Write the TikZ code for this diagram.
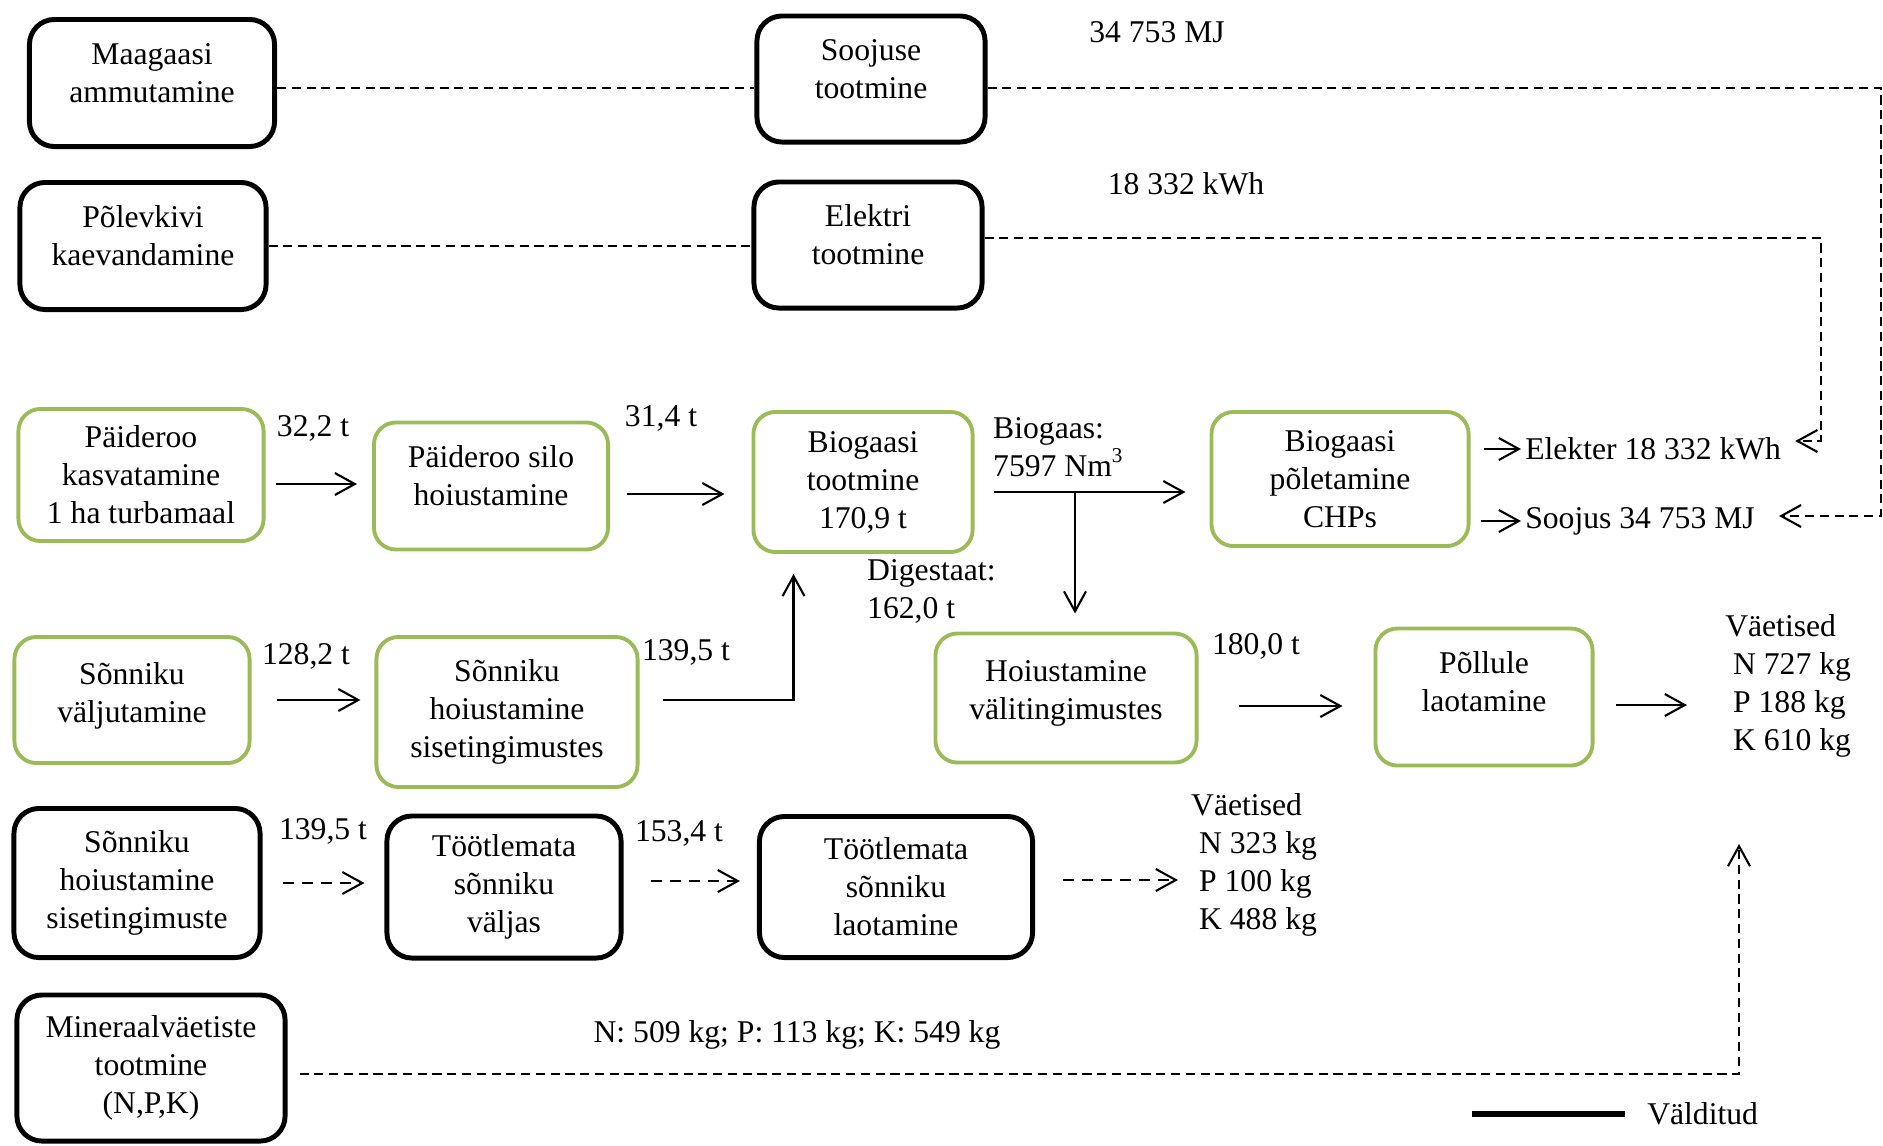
\documentclass[tikz,border=0pt]{standalone}
\usepackage{fontspec}
\setmainfont{Liberation Serif}
\usepackage{xcolor}
\usepackage{tikz}
\usetikzlibrary{arrows.meta, positioning}
\definecolor{leaf}{RGB}{155, 187, 89}
\newcommand{\padlow}[1]{\\[#1]\mbox{}}

\begin{document}
\begin{tikzpicture}[
			x=0.01cm, y=-0.01cm,
			font=\fontsize{9}{10.8}\selectfont,
			oldbox/.style={rectangle, draw=black, rounded corners=0.25cm, align=center, inner sep=2pt, line width=1.4pt},
			newbox/.style={rectangle, draw=leaf, rounded corners=0.22cm, align=center, inner sep=2pt, line width=1.1pt},
			lbl/.style={align=left, inner sep=1pt},
			flow/.style={-{Straight Barb[length=0.2cm, width=0.22cm]}, line width=0.6pt},
			dflow/.style={flow, dash pattern=on 3.2pt off 2.2pt},
			avoid/.style={line width=0.6pt, dash pattern=on 2.6pt off 1.6pt}
			]
			\useasboundingbox (0,0) rectangle (1883,1145);
			
			% Row 1 and 2
			\node[oldbox, minimum width=2.45cm, minimum height=1.27cm] (mg) at (152,83) {Maagaasi\\ammutamine\padlow{-5pt}};
			\node[oldbox, minimum width=2.28cm, minimum height=1.26cm] (sj) at (871,79) {Soojuse\\tootmine\padlow{-5pt}};
			\node[oldbox, minimum width=2.46cm, minimum height=1.27cm] (pv) at (143,246) {Põlevkivi\\kaevandamine\padlow{-5pt}};
			\node[oldbox, minimum width=2.28cm, minimum height=1.26cm] (el) at (868,245) {Elektri\\tootmine\padlow{-5pt}};
			\node[lbl] (sjval) at (1157,32) {34 753 MJ};
			\node[lbl] (elval) at (1186,184) {18 332 kWh};
			
			% Row 3
			\node[newbox, minimum width=2.45cm, minimum height=1.32cm] (pk) at (141,475) {Päideroo\\kasvatamine\\1 ha turbamaal};
			\node[newbox, minimum width=2.34cm, minimum height=1.27cm] (ps) at (491,486) {Päideroo silo\\hoiustamine\padlow{-5pt}};
			\node[newbox, minimum width=2.19cm, minimum height=1.40cm] (bg) at (863,482) {Biogaasi\\tootmine\\170,9 t};
			\node[newbox, minimum width=2.57cm, minimum height=1.34cm] (chp) at (1340,479) {Biogaasi\\põletamine\\CHPs};
			\node[lbl, anchor=west] (elekter) at (1521,449) {Elekter 18 332 kWh};
			\node[lbl, anchor=west] (soojus) at (1521,521) {Soojus 34 753 MJ};
			\node[lbl] (pkval) at (313,428) {32,2 t};
			\node[lbl] (psval) at (661,418) {31,4 t};
			\node[lbl, anchor=west] (bgval) at (989,447) {Biogaas:\\7597 Nm\textsuperscript{3}};
			\node[lbl, anchor=west] (dgval) at (863,591) {Digestaat:\\162,0 t};
			
			% Row 4
			\node[newbox, minimum width=2.35cm, minimum height=1.26cm] (sv) at (132,700) {Sõnniku\\väljutamine\padlow{-6.5pt}};
			\node[newbox, minimum width=2.61cm, minimum height=1.50cm] (sh) at (507,712) {Sõnniku\\hoiustamine\\sisetingimustes};
			\node[newbox, minimum width=2.61cm, minimum height=1.29cm] (hv) at (1066,698) {Hoiustamine\\välitingimustes\padlow{-6.5pt}};
			\node[newbox, minimum width=2.17cm, minimum height=1.37cm] (pl) at (1484,697) {Põllule\\laotamine\padlow{-2pt}};
			\node[lbl, anchor=west] (vt1) at (1721,686) {Väetised\\\ N 727 kg\\\ P 188 kg\\\ K 610 kg};
			\node[lbl] (svval) at (306,656) {128,2 t};
			\node[lbl] (shval) at (686,652) {139,5 t};
			\node[lbl] (hvval) at (1256,646) {180,0 t};
			
			% Row 5 and 6
			\node[oldbox, minimum width=2.46cm, minimum height=1.49cm] (sh2) at (137,883) {Sõnniku\\hoiustamine\\sisetingimuste};
			\node[oldbox, minimum width=2.34cm, minimum height=1.42cm] (tv) at (504,887) {Töötlemata\\sõnniku\\väljas};
			\node[oldbox, minimum width=2.73cm, minimum height=1.41cm] (tl) at (896,887) {Töötlemata\\sõnniku\\laotamine};
			\node[lbl, anchor=west] (vt2) at (1187,865) {Väetised\\\ N 323 kg\\\ P 100 kg\\\ K 488 kg};
			\node[lbl] (sh2val) at (323,831) {139,5 t};
			\node[lbl] (tvval) at (679,833) {153,4 t};
			\node[oldbox, minimum width=2.68cm, minimum height=1.46cm] (mv) at (151,1068) {Mineraalväetiste\\tootmine\\(N,P,K)};
			\node[lbl] (mvval) at (797,1035) {N: 509 kg; P: 113 kg; K: 549 kg};
			\node[lbl, anchor=west] (vld) at (1643,1114) {Välditud};
			
			\coordinate (rc1) at (1881,516);
			\coordinate (rc2) at (1821,441);
			\coordinate (bgsplit) at (1075,492);
			\coordinate (mvend) at (1739,844);
			\coordinate (lgs) at (1472,1114);
			
			% Dashed lines (avoided)
			\draw[avoid] ([yshift=-0.05cm]mg.east) -- ([yshift=-0.05cm]mg.east -| sj.west);
			\draw[avoid] (pv.east) -- (pv.east -| el.west);
			\draw[avoid, -{Straight Barb[length=0.2cm, width=0.22cm]}, shorten >=0.2cm] ([yshift=-0.09cm]sj.east) -| (rc1) -- (rc1 -| soojus.east);
			\draw[avoid, -{Straight Barb[length=0.2cm, width=0.22cm]}, shorten >=0.1cm] ([yshift=0.07cm]el.east) -| (rc2) -- (rc2 -| elekter.east);
			\draw[avoid, -{Straight Barb[length=0.2cm, width=0.22cm]}, shorten <=0.12cm] ([yshift=-0.06cm]mv.east) -| (mvend);
			
			% Arrows
			\draw[flow, shorten <=0.1cm, shorten >=0.15cm] ([yshift=-0.09cm]pk.east) -- ([yshift=-0.09cm]pk.east -| ps.west);
			\draw[flow, shorten <=0.17cm, shorten >=0.27cm] ([yshift=-0.08cm]ps.east) -- ([yshift=-0.08cm]ps.east -| bg.west);
			\draw[flow, shorten <=0.19cm, shorten >=0.24cm] ([yshift=-0.1cm]bg.east) -- ([yshift=-0.1cm]bg.east -| chp.west);
			\draw[flow, shorten >=0.18cm] (bgsplit) -- (bgsplit |- hv.north);
			\draw[flow, shorten <=0.13cm] (chp.east |- elekter.west) -- (elekter.west);
			\draw[flow, shorten <=0.1cm] (chp.east |- soojus.west) -- (soojus.west);
			\draw[flow, shorten <=0.25cm, shorten >=0.14cm] (sv.east) -- (sv.east -| sh.west);
			\draw[flow, shorten <=0.23cm, shorten >=0.2cm] ([yshift=0.12cm]sh.east) -| ([xshift=0.42cm]bg.south west);
			\draw[flow, shorten <=0.4cm, shorten >=0.31cm] ([yshift=-0.08cm]hv.east) -- ([yshift=-0.08cm]hv.east -| pl.west);
			\draw[flow, shorten <=0.21cm, shorten >=0.34cm] ([yshift=-0.08cm]pl.east) -- ([yshift=-0.08cm]pl.east -| vt1.west);
			\draw[dflow, shorten <=0.2cm, shorten >=0.2cm] (sh2.east) -- (sh2.east -| tv.west);
			\draw[dflow, shorten <=0.27cm, shorten >=0.17cm] ([yshift=0.06cm]tv.east) -- ([yshift=0.06cm]tv.east -| tl.west);
			\draw[dflow, shorten <=0.28cm, shorten >=0.09cm] ([yshift=0.07cm]tl.east) -- ([yshift=0.07cm]tl.east -| vt2.west);
			
			% Legend
			\draw[line width=1.7pt] (lgs) -- ([xshift=-0.18cm]vld.west);
		\end{tikzpicture}
\end{document}
